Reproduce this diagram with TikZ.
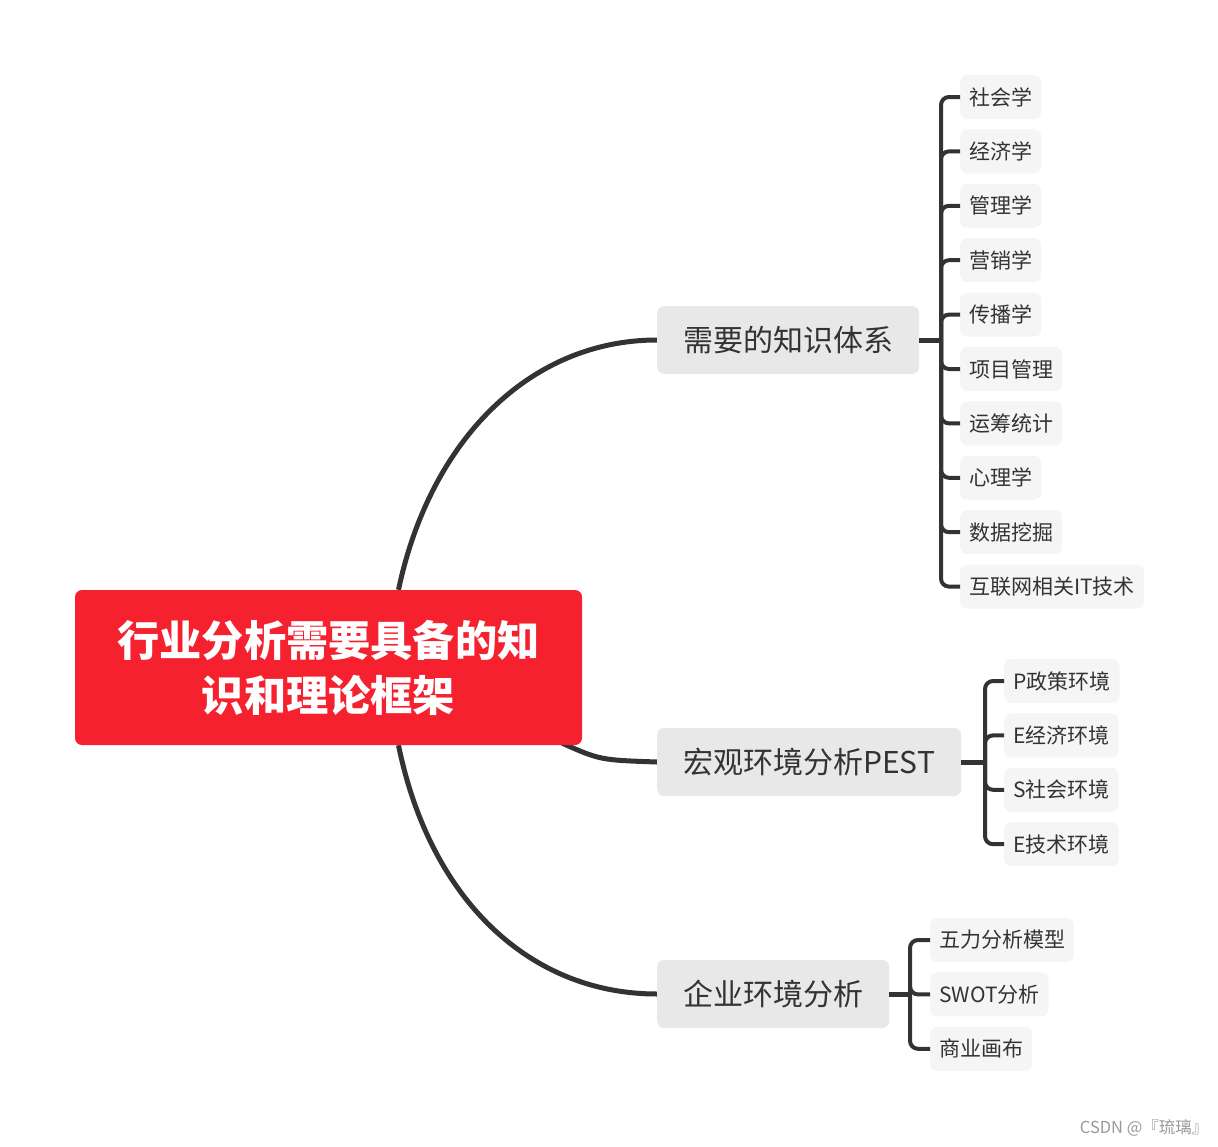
\documentclass[tikz,border=0pt]{standalone}
\usepackage{fontspec}
\setmainfont{Noto Sans CJK SC}
\usetikzlibrary{positioning,calc,backgrounds}
\definecolor{mmRoot}{HTML}{F5212F}
\definecolor{mmMain}{HTML}{E8E8E8}
\definecolor{mmLeaf}{HTML}{F5F5F5}
\definecolor{mmText}{HTML}{333333}
\definecolor{mmLine}{HTML}{333333}
\definecolor{mmMute}{HTML}{999999}
\tikzset{
  rootnode/.style={
    fill=mmRoot, rounded corners=7pt, minimum width=507pt, minimum height=155pt,
    align=center, text=white, font=\fontsize{42.2}{55}\selectfont\bfseries
  },
  mainnode/.style={
    fill=mmMain, rounded corners=7pt, minimum height=68pt, inner xsep=26pt,
    text=mmText, font=\fontsize{30}{35}\selectfont, anchor=west
  },
  leaf/.style={
    fill=mmLeaf, rounded corners=7pt, minimum height=44pt, inner xsep=9pt,
    text=mmText, font=\fontsize{21}{25}\selectfont
  },
  limb/.style={line width=5pt, mmLine},
  twig/.style={line width=4pt, mmLine, rounded corners=8pt}
}
\begin{document}
\begin{tikzpicture}[x=1pt, y=-1pt, node distance=10pt]
  \useasboundingbox (0,0) rectangle (1218,1146);

  % centre topic
  \node[rootnode] (root) at (328.5,667.5) {行业分析需要具备的知\\识和理论框架};

  % main topics
  \node[mainnode] (know) at (657,340) {需要的知识体系};
  \node[mainnode] (pest) at (657,762) {宏观环境分析PEST};
  \node[mainnode] (firm) at (657,994) {企业环境分析};

  % curves from the centre topic
  \begin{scope}[on background layer]
  \draw[limb] ($(root.north)+(70,0)$) .. controls (430,440) and (530,340) .. (know.west);
  \draw[limb] ($(root.south east)+(-20,-2)$) .. controls (600,760) .. (pest.west);
  \draw[limb] ($(root.south)+(70,0)$) .. controls (430,900) and (530,994) .. (firm.west);
  \end{scope}

  % knowledge leaves
  \node[leaf, anchor=west] (k1) at (960,97) {社会学};
  \node[leaf, below=10pt of k1.south west, anchor=north west] (k2) {经济学};
  \node[leaf, below=10pt of k2.south west, anchor=north west] (k3) {管理学};
  \node[leaf, below=10pt of k3.south west, anchor=north west] (k4) {营销学};
  \node[leaf, below=10pt of k4.south west, anchor=north west] (k5) {传播学};
  \node[leaf, below=10pt of k5.south west, anchor=north west] (k6) {项目管理};
  \node[leaf, below=10pt of k6.south west, anchor=north west] (k7) {运筹统计};
  \node[leaf, below=10pt of k7.south west, anchor=north west] (k8) {心理学};
  \node[leaf, below=10pt of k8.south west, anchor=north west] (k9) {数据挖掘};
  \node[leaf, below=10pt of k9.south west, anchor=north west] (k10) {互联网相关IT技术};

  \coordinate (kfork) at (941,340);
  \draw[limb] (know.east) -- (kfork);
  \foreach \n in {1,...,10}
    \draw[twig] (kfork) |- (k\n.west);

  % PEST leaves
  \node[leaf, anchor=west] (p1) at (1004,681) {P政策环境};
  \node[leaf, below=10pt of p1.south west, anchor=north west] (p2) {E经济环境};
  \node[leaf, below=10pt of p2.south west, anchor=north west] (p3) {S社会环境};
  \node[leaf, below=10pt of p3.south west, anchor=north west] (p4) {E技术环境};

  \coordinate (pfork) at (985,762);
  \draw[limb] (pest.east) -- (pfork);
  \foreach \n in {1,...,4}
    \draw[twig] (pfork) |- (p\n.west);

  % firm leaves
  \node[leaf, anchor=west] (f1) at (930,940) {五力分析模型};
  \node[leaf, below=10pt of f1.south west, anchor=north west] (f2) {SWOT分析};
  \node[leaf, below=10pt of f2.south west, anchor=north west] (f3) {商业画布};

  \coordinate (ffork) at (910,994);
  \draw[limb] (firm.east) -- (ffork);
  \foreach \n in {1,...,3}
    \draw[twig] (ffork) |- (f\n.west);

  % watermark
  \node[text=mmMute, font=\fontsize{16.5}{19}\selectfont, anchor=east] (mark) at (1212,1128) {CSDN @『琉璃』};
\end{tikzpicture}
\end{document}
